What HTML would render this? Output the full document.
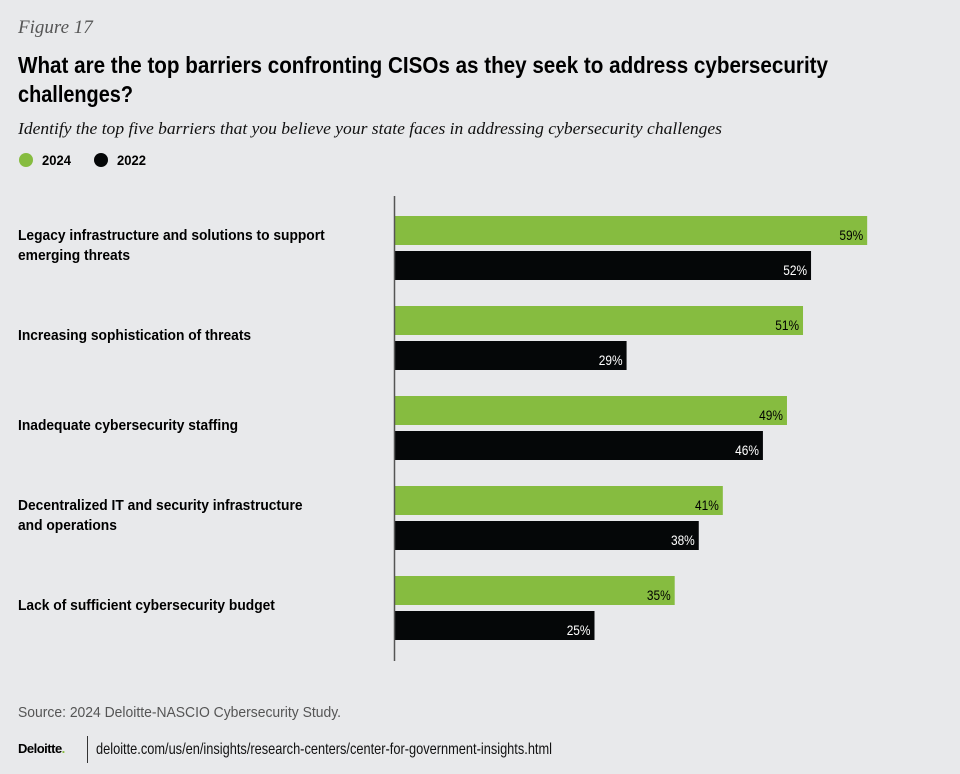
<!DOCTYPE html>
<html><head><meta charset="utf-8"><style>
html,body{margin:0;padding:0;background:#e8e9eb}
svg{display:block}
.n{font-family:"Liberation Sans Narrow","Liberation Sans",sans-serif}
</style></head><body>
<svg width="960" height="774" viewBox="0 0 960 774">
<rect width="960" height="774" fill="#e8e9eb"/>
<text x="18" y="33" font-family="Liberation Serif,serif" font-style="italic" font-size="19" fill="#555">Figure 17</text>
<text class="n" x="18" y="73" font-weight="bold" font-size="23" fill="#000" textLength="810" lengthAdjust="spacingAndGlyphs">What are the top barriers confronting CISOs as they seek to address cybersecurity</text>
<text class="n" x="18" y="102" font-weight="bold" font-size="23" fill="#000" textLength="115" lengthAdjust="spacingAndGlyphs">challenges?</text>
<text x="18" y="134" font-family="Liberation Serif,serif" font-style="italic" font-size="16.5" fill="#111" textLength="704" lengthAdjust="spacingAndGlyphs">Identify the top five barriers that you believe your state faces in addressing cybersecurity challenges</text>
<g>
<circle cx="26" cy="160" r="7" fill="#86bc40"/>
<text class="n" x="42" y="165" font-weight="bold" font-size="14" fill="#000" textLength="29" lengthAdjust="spacingAndGlyphs">2024</text>
<circle cx="101" cy="160" r="7" fill="#050708"/>
<text class="n" x="117" y="165" font-weight="bold" font-size="14" fill="#000" textLength="29" lengthAdjust="spacingAndGlyphs">2022</text>
</g>
<g id="plot"></g>
<line x1="394.5" y1="196" x2="394.5" y2="661" stroke="#555" stroke-width="1.5"/>
<text class="n" x="18" y="717" font-size="15" fill="#555" textLength="323" lengthAdjust="spacingAndGlyphs">Source: 2024 Deloitte-NASCIO Cybersecurity Study.</text>
<text x="18" y="753" font-family="Liberation Sans,sans-serif" font-weight="bold" font-size="13" fill="#000" letter-spacing="-0.5">Deloitte<tspan fill="#86bc40">.</tspan></text>
<line x1="87.5" y1="736" x2="87.5" y2="763" stroke="#333" stroke-width="1"/>
<text class="n" x="96" y="754" font-size="16" fill="#111" textLength="456" lengthAdjust="spacingAndGlyphs">deloitte.com/us/en/insights/research-centers/center-for-government-insights.html</text>
</svg>
<script>
const categories = [
  ["Legacy infrastructure and solutions to support","emerging threats"],
  ["Increasing sophistication of threats"],
  ["Inadequate cybersecurity staffing"],
  ["Decentralized IT and security infrastructure","and operations"],
  ["Lack of sufficient cybersecurity budget"]
];
const values2024 = [59, 51, 49, 41, 35];
const values2022 = [52, 29, 46, 38, 25];
const NS = "http://www.w3.org/2000/svg";
const plot = document.getElementById('plot');
const x0 = 394, pxPer = 8.02;
function xScale(v){ return x0 + v * pxPer; }
function yGroup(i){ return 216 + i * 90; }
const barH = 29, gap = 35;
function mk(tag, attrs){ const e = document.createElementNS(NS, tag); for (const k in attrs) e.setAttribute(k, attrs[k]); return e; }
categories.forEach((lines, i) => {
  const gy = yGroup(i);
  const center = gy + (gap + barH) / 2 - 3;
  const start = center - (lines.length - 1) * 10 + 5;
  lines.forEach((t, j) => {
    const lbl = mk('text', {x: 18, y: start + j * 20, 'font-weight': 'bold', 'font-size': 15, fill: '#000', class: 'n'});
    
    
    lbl.textContent = t;
    plot.appendChild(lbl);
    const w = lbl.getComputedTextLength();
    lbl.setAttribute('textLength', (w * 0.92).toFixed(1));
    lbl.setAttribute('lengthAdjust', 'spacingAndGlyphs');
  });
  [[values2024[i], '#86bc40', '#000', 0, '2024'], [values2022[i], '#050708', '#fff', gap, '2022']].forEach(([v, fill, tc, off, yr]) => {
    const y = gy + off;
    const r = mk('rect', {x: x0, y: y, width: xScale(v) - x0, height: barH, fill: fill});
    
    
    plot.appendChild(r);
    const t = mk('text', {x: xScale(v) - 4, y: y + barH - 5, 'text-anchor': 'end', 'font-size': 14, fill: tc, class: 'n'});
    
    
    t.textContent = v + '%';
    plot.appendChild(t);
    const w = t.getComputedTextLength();
    t.setAttribute('textLength', (w * 0.85).toFixed(1));
    t.setAttribute('lengthAdjust', 'spacingAndGlyphs');
  });
});
</script>
</body></html>
